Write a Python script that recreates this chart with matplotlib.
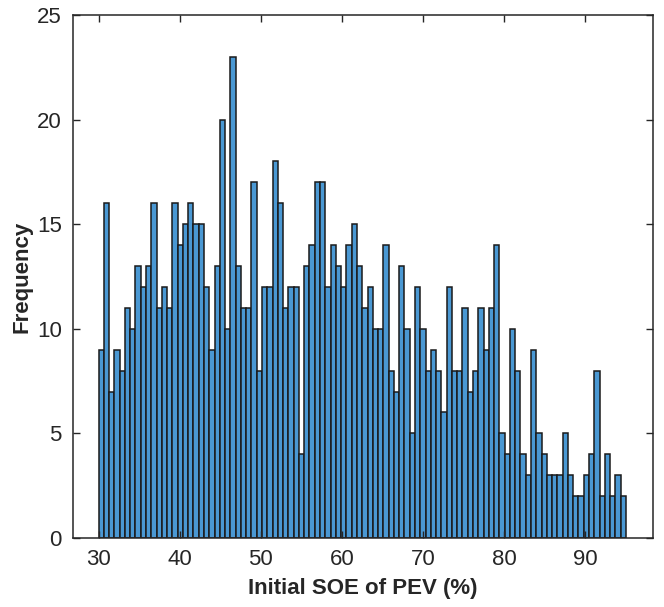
import numpy as np
import matplotlib.pyplot as plt

# histogram of initial SOE, 100 bins between 30 and 95
bin_edges = np.linspace(30, 95, 101)
counts = [9, 16, 7, 9, 8, 11, 10, 13, 12, 13,
          16, 11, 12, 11, 16, 14, 15, 16, 15, 15,
          12, 9, 13, 20, 10, 23, 13, 11, 11, 17,
          8, 12, 12, 18, 16, 11, 12, 12, 4, 13,
          14, 17, 17, 12, 14, 13, 12, 14, 15, 13,
          11, 12, 10, 10, 14, 8, 7, 13, 10, 5,
          12, 10, 8, 9, 8, 6, 12, 8, 8, 11,
          7, 8, 11, 9, 11, 14, 5, 4, 10, 8,
          4, 3, 9, 5, 4, 3, 3, 3, 5, 3,
          2, 2, 3, 4, 8, 2, 4, 2, 3, 2]
x_ticks = [30, 40, 50, 60, 70, 80, 90]
y_ticks = [0, 5, 10, 15, 20, 25]

plt.rcParams['font.family'] = ['Liberation Sans', 'DejaVu Sans']

fig = plt.figure(figsize=(6.64, 6.07), dpi=100)
ax = fig.add_axes([0.110, 0.1137, 0.873, 0.8616])

widths = np.diff(bin_edges)
ax.bar(bin_edges[:-1], counts, width=widths, align='edge',
       color='#4a98d3', edgecolor='#1a1a1a', linewidth=1.1)

ax.set_xlim(26.86, 98.3)
ax.set_ylim(0, 25)
ax.set_xticks(x_ticks)
ax.set_yticks(y_ticks)
ax.tick_params(direction='in', top=True, right=True, length=5, width=1.0,
               labelsize=16, colors='#262626', pad=8)
for s in ax.spines.values():
    s.set_linewidth(1.1)
    s.set_color('#262626')

ax.set_xlabel('Initial SOE of PEV (%)', fontsize=16, fontweight='bold',
              color='#262626', labelpad=6)
ax.set_ylabel('Frequency', fontsize=16, fontweight='bold',
              color='#262626', labelpad=3)

fig.savefig('out.png', dpi=100)
